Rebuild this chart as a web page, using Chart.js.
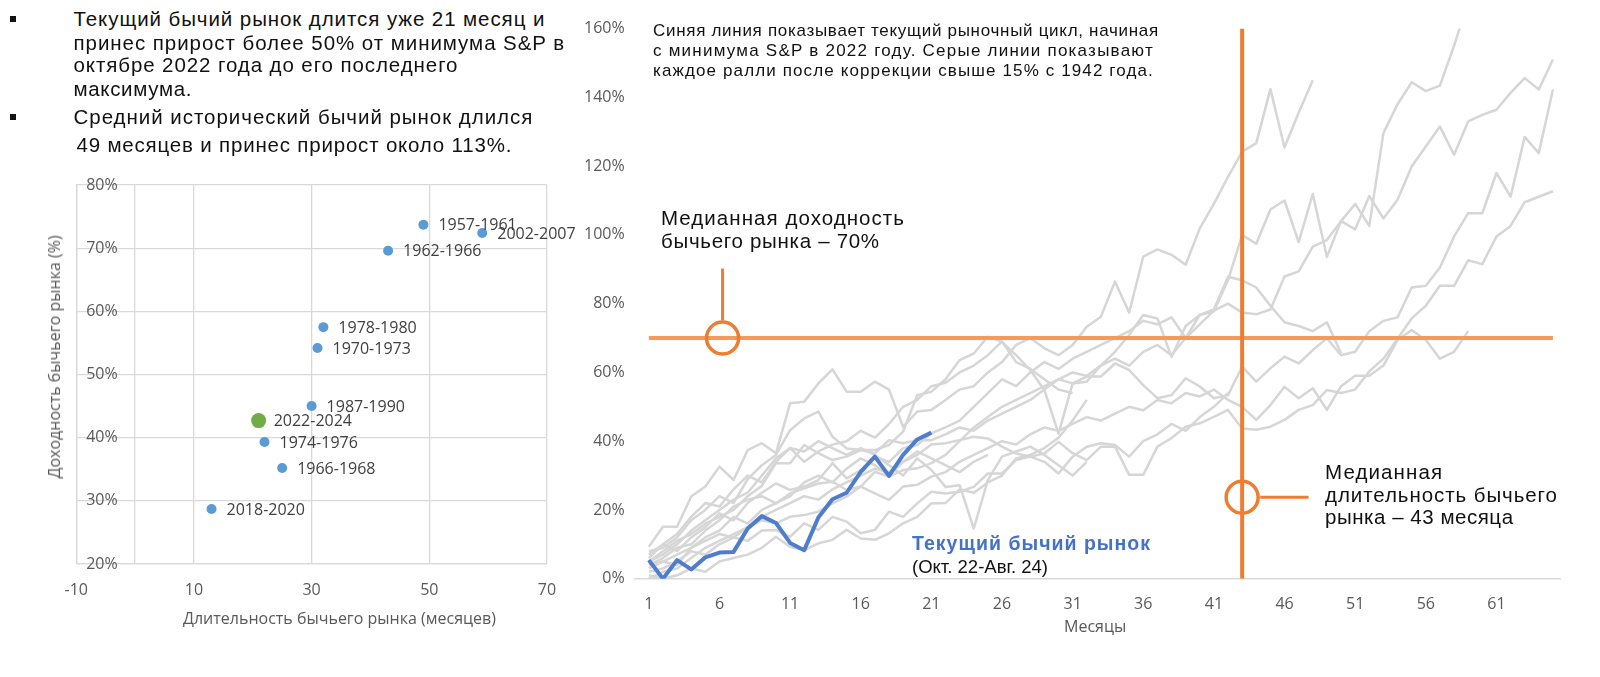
<!DOCTYPE html>
<html><head><meta charset="utf-8">
<script src="https://cdn.jsdelivr.net/npm/chart.js@4.4.1/dist/chart.umd.min.js"></script>
<style>
body{margin:0;width:1600px;height:677px;background:#fff;position:relative;overflow:hidden;}
.t{position:absolute;white-space:nowrap;color:#111;font-family:"Liberation Sans",Arial,sans-serif;}
.b{position:absolute;width:6px;height:6px;background:#111;}
canvas{position:absolute;}
#c1{left:0;top:150px;width:600px;height:500px;}
#c2{left:560px;top:0;width:1040px;height:677px;}
</style></head><body>
<canvas id="c1" width="600" height="500"></canvas>
<canvas id="c2" width="1040" height="677"></canvas>

<div class="b" style="left:10px;top:16px"></div>
<div class="b" style="left:10px;top:114px"></div>
<div class="t fit" data-x="73.5" data-cy="19.4" data-w="471" data-fs="20.5">Текущий бычий рынок длится уже 21 месяц и</div>
<div class="t fit" data-x="73.5" data-cy="42.9" data-w="491" data-fs="20.5">принес прирост более 50% от минимума S&amp;P в</div>
<div class="t fit" data-x="73.5" data-cy="65.4" data-w="384" data-fs="20.5">октябре 2022 года до его последнего</div>
<div class="t fit" data-x="73.5" data-cy="88.9" data-w="118" data-fs="20.5">максимума.</div>
<div class="t fit" data-x="73.5" data-cy="117.5" data-w="459" data-fs="20.5">Средний исторический бычий рынок длился</div>
<div class="t fit" data-x="76.5" data-cy="145" data-w="435" data-fs="20.5">49 месяцев и принес прирост около 113%.</div>

<div class="t fit" data-x="653" data-cy="31" data-w="505" data-fs="17">Синяя линия показывает текущий рыночный цикл, начиная</div>
<div class="t fit" data-x="653" data-cy="51" data-w="500" data-fs="17">с минимума S&amp;P в 2022 году. Серые линии показывают</div>
<div class="t fit" data-x="653" data-cy="71.5" data-w="500" data-fs="17">каждое ралли после коррекции свыше 15% с 1942 года.</div>

<div class="t fit" data-x="661" data-cy="218" data-w="243" data-fs="20.5">Медианная доходность</div>
<div class="t fit" data-x="661" data-cy="241" data-w="218" data-fs="20.5">бычьего рынка – 70%</div>

<div class="t fit" data-x="1325" data-cy="472" data-w="117" data-fs="20.5">Медианная</div>
<div class="t fit" data-x="1325" data-cy="495" data-w="232" data-fs="20.5">длительность бычьего</div>
<div class="t fit" data-x="1325" data-cy="517" data-w="188" data-fs="20.5">рынка – 43 месяца</div>

<div class="t fit" data-x="912" data-cy="544" data-w="238" data-fs="19.5" style="font-weight:bold;color:#4472C4">Текущий бычий рынок</div>
<div class="t fit" data-x="912" data-cy="567" data-w="136" data-fs="18.5">(Окт. 22-Авг. 24)</div>

<div class="t" id="mes" style="font-family:'Open Sans';font-size:16px;color:#595959;left:1064px;top:615px;">Месяцы</div>
<div class="t" id="sx" style="font-family:'Open Sans';font-size:16px;color:#595959;left:183px;top:607px;">Длительность бычьего рынка (месяцев)</div>
<div class="t" id="sy" style="font-family:'Open Sans';font-size:16px;color:#595959;left:54px;top:357px;transform:translate(-50%,-50%) rotate(-90deg);">Доходность бычьего рынка (%)</div>

<script>
// ---------------- DATA ----------------
// Scatter: bull markets (duration in months, return in %)
const scatterLabels   = ["1957-1961","2002-2007","1962-1966","1978-1980","1970-1973","1987-1990","1974-1976","1966-1968","2018-2020"];
const scatterDuration = [49, 59, 43, 32, 31, 30, 22, 25, 13];
const scatterReturn   = [73.7, 72.4, 69.6, 57.5, 54.2, 45.0, 39.3, 35.2, 28.7];
const currentLabel    = "2022-2024";
const currentDuration = 21;
const currentReturn   = 42.7;
const scatterXTicks   = [-10, 0, 10, 30, 50, 70];

// Line chart: cumulative return (%) by month since market low
const monthTicks = [1, 6, 11, 16, 21, 26, 31, 36, 41, 46, 51, 56, 61];
const currentCycle = [5.4, 0, 5.4, 2.7, 6.2, 7.6, 7.8, 14.6, 18.2, 16.2, 10.4, 8.3, 17.8, 23.1, 25, 31.1, 35.5, 29.9, 36, 40.5, 42.5];

const rally1 = [8, 9, 12, 17, 20, 24, 22, 29, 33, 36, 43.2, 46.6, 48.6, 41.3, 37.9, 37.4, 37.4, 38.9, 42.8, 53.4, 54.4,
  58, 63.6, 65.5, 70.4, 68.9, 65, 60.7, 54.9, 42.2, 56.8, 57.3, 62, 66, 70.9,
  76.7, 75.7, 64.5, 73.5, 76.7, 77.8, 86.8, 100, 97.4, 107.4, 110, 97.9, 111.9, 93.6, 104,
  109, 102.6, 129.6, 138, 144.4, 141.8, 143.4, 155, 168];
const rally2 = [5, 8, 11, 13, 16, 18, 20, 24, 27, 33.6, 33.6, 38.9, 36.5, 34.5, 35.5, 37.4, 36.5, 40.3, 39.4, 40.3, 40.3,
  42, 44, 43, 46, 48, 50, 52, 55, 58, 60, 59, 62, 64, 62,
  66, 68, 65, 70, 74, 78, 80, 77.4, 76.9, 78.3, 87.9, 89.4, 96.6, 98.5, 104,
  101.6, 111.3, 104.8, 110.2, 119.9, 125.7, 131.5, 123.3, 133, 134.9, 136.4, 141.3, 145.6, 142.3, 151];
const rally3 = [9.3, 15.1, 15.1, 23.9, 26.8, 32.6, 28.7, 37.4, 39.4, 36.5, 51, 51.5, 56.8, 60.9, 54.4, 54.4, 57.3, 55, 44.2, 48.6, 49.1,
  52, 55, 56, 60, 63, 68, 70, 67, 65, 68, 73.3, 76.2, 86.4, 77.4,
  93.7, 95.8, 94.2, 91.3, 101.9, 109, 116.9, 124.2, 126.7, 142.4, 125.4, 135.5, 145];
const rally4 = [4, 6, 9, 10, 14, 17, 21, 23, 24, 21.9, 24.8, 26.3, 27.7, 28.2, 25.8, 26.8, 31.1, 29.7, 31.6, 32.1, 33.6,
  36, 40, 44, 47, 50, 52, 54, 56, 58, 56.8, 58.8, 58.8, 62.6, 60.7,
  56.3, 52.5, 53.4, 58.3, 55.9, 52.5, 53.4, 61.7, 57.3, 61.2, 64.6, 62.6, 66.5, 69.9, 65,
  66, 72, 75, 76, 84.7, 85.2, 90.5, 99.5, 106.3, 106.3, 118, 111.1, 128.5, 123.8, 142.3];
const rally5 = [2, 3, 5, 8, 7, 10, 12, 11, 14, 14.2, 12.2, 16.1, 14.2, 18, 16.6, 13.2, 14.2, 19.5, 18, 21.9, 25.3,
  24.8, 25.3, 26.7, 30.6, 30.6, 34.5, 35.5, 36.4, 39.8, 36.5, 34.5, 38.4, 38.4, 30.2,
  30.2, 38.4, 40.9, 44.2, 45.2, 47.1, 49.1, 43.7, 43.3, 44.2, 46.2, 49.1, 50.5, 54.9, 54,
  55, 60.3, 64, 69.8, 75.7, 79.4, 85.2, 85.2, 92.6, 91.5, 99.5, 102.6, 109.5, 111.1, 112.7];
const rally6 = [0, 2, 3, 6, 9, 11, 13, 15, 17, 16.1, 18, 18.5, 19.5, 21.9, 23.9, 26.8, 24.8, 22.9, 26.8, 27.3, 29.7,
  31, 34, 36, 38, 40, 39, 42, 44, 43, 45, 47, 46, 48, 50,
  49, 52, 51, 54, 53, 55, 52, 50, 46.2, 50.5, 55.8, 52.5, 55.4, 49.1, 56,
  59, 59, 62, 69.4, 72.3, 69.4, 64, 66, 72];
const rally7 = [7, 10, 8, 12, 15, 19, 17, 22, 25, 27.7, 25.8, 26.8, 28.7, 33.6, 29.2, 31.6, 35.5, 34, 37.9, 38.9, 42.3,
  44, 46, 50, 54, 58, 56, 60, 63, 61, 64, 66, 68, 70, 72,
  75, 74, 76, 70, 76.7, 78.3, 87.8, 86.8, 84.7, 79.4, 74.6, 73.5, 72, 74.6, 65.6];
const rally8 = [1, 0, 1, 3, 2, 5, 6, 7, 9, 12.2, 9.3, 8.3, 10.3, 11.3, 14.2, 11.7, 11.3, 13.2, 16.1, 18, 21.9,
  22, 26, 25, 28, 30, 35, 36, 38, 41, 46, 52];
const rally9 = [6, 10, 13, 18, 22, 21, 26, 30, 28, 34, 38, 37, 40, 38, 36, 38, 36, 33, 30, 35, 31.6,
  26.7, 27.2, 14.6, 28.7, 35.5, 37, 38.4, 36, 33, 30, 34];
const rally10 = [3, 5, 4, 9, 12, 14, 18, 16, 20, 22, 24, 28, 30, 28, 32, 35, 33, 30, 34, 37, 35,
  33, 31, 34, 36];
const rally11 = [5, 7, 10, 14, 17, 20, 23, 25, 30, 35, 38, 34, 37, 39, 40, 43, 41, 45, 50, 52, 56,
  57, 60, 62, 65, 69, 63, 61, 58, 55, 54];
const rally12 = [4, 5, 7, 9, 11, 13, 12, 15, 18, 20, 22, 24, 23, 26, 28, 30, 32, 31, 34, 36, 39,
  39.4, 40.3, 41.3, 40.8, 38.4, 36.4, 35.5, 34, 30.6, 35.5, 38.4, 39.4, 38.9, 35.5, 40, 42, 45, 43, 47, 50, 54];

// Annotation values
const medianReturn = 70;      // %
const medianDuration = 43;    // months
const lastMonth = 65;
const returnMarker = {x: 6.22, y: 70, stemTop: 90.2, stemBottom: 75.1};
const durationMarker = {x: 43, y: 23.7, stemStart: 44.28, stemEnd: 47.7};

// ---------------- TEXT FITTING ----------------
const mctx = document.createElement('canvas').getContext('2d');
document.querySelectorAll('.fit').forEach(el => {
  const fs = +el.dataset.fs;
  el.style.fontSize = fs + 'px';
  el.style.lineHeight = (fs * 1.2) + 'px';
  el.style.left = el.dataset.x + 'px';
  el.style.top = (+el.dataset.cy - fs * 0.6) + 'px';
  const cs = getComputedStyle(el);
  mctx.font = cs.fontWeight + ' ' + fs + 'px ' + cs.fontFamily;
  const txt = el.textContent;
  const w = mctx.measureText(txt).width;
  const ls = (+el.dataset.w - w) / Math.max(1, txt.length - 1);
  el.style.letterSpacing = ls.toFixed(2) + 'px';
});

Chart.defaults.font.family = "'Open Sans'";
Chart.defaults.color = '#595959';

// ---------------- SCATTER ----------------
const pointLabels = {
  id: 'pointLabels',
  afterDatasetsDraw(chart) {
    const ctx = chart.ctx;
    ctx.save();
    ctx.font = "16px 'Open Sans'";
    ctx.fillStyle = '#404040';
    ctx.textBaseline = 'middle';
    chart.data.datasets.forEach((ds, di) => {
      const meta = chart.getDatasetMeta(di);
      meta.data.forEach((pt, i) => {
        ctx.fillText(ds.labels[i], pt.x + 15, pt.y + 1);
      });
    });
    ctx.restore();
  }
};

new Chart(document.getElementById('c1'), {
  type: 'scatter',
  data: {
    datasets: [
      {labels: scatterLabels, data: scatterDuration.map((d, i) => ({x: d, y: scatterReturn[i]})),
       backgroundColor: '#5B9BD5', borderWidth: 0, pointRadius: 5},
      {labels: [currentLabel], data: [{x: currentDuration, y: currentReturn}],
       backgroundColor: '#70AD47', borderWidth: 0, pointRadius: 7.5}
    ]
  },
  options: {
    responsive: false, animation: false,
    layout: {padding: {left: 76.2, right: 53, top: 35, bottom: 0}},
    plugins: {legend: {display: false}, tooltip: {enabled: false}},
    scales: {
      x: {type: 'linear', min: -10, max: 70,
        afterBuildTicks: s => { s.ticks = scatterXTicks.map(v => ({value: v})); },
        afterFit: s => { s.height = 86; },
        ticks: {callback: v => v === 0 ? '' : String(v), padding: 17, font: {size: 16}, color: '#595959', maxRotation: 0, autoSkip: false},
        grid: {color: '#d9d9d9', lineWidth: 1.3, drawTicks: false},
        border: {color: '#d9d9d9', width: 1.3}},
      y: {min: 20, max: 80,
        afterFit: s => { s.width = 0; },
        ticks: {stepSize: 10, mirror: true, padding: 10, callback: v => v + '%', font: {size: 16}, color: '#595959'},
        grid: {color: '#d9d9d9', lineWidth: 1.3, drawTicks: false},
        border: {color: '#d9d9d9', width: 1.3}}
    }
  },
  plugins: [pointLabels]
});

// ---------------- LINE CHART ----------------
const toXY = arr => arr.map((v, i) => ({x: i + 1, y: v}));
const rallies = [rally1, rally2, rally3, rally4, rally5, rally6, rally7, rally8, rally9, rally10, rally11, rally12];
const orange = '#ED7D31';
const datasets = [];

datasets.push({data: [{x: 1, y: medianReturn}, {x: lastMonth, y: medianReturn}], borderColor: '#F39A5C', borderWidth: 4, order: 1});
datasets.push({data: [{x: medianDuration, y: 0}, {x: medianDuration, y: 160}], borderColor: orange, borderWidth: 4, order: 0});
datasets.push({data: [{x: returnMarker.x, y: returnMarker.stemBottom}, {x: returnMarker.x, y: returnMarker.stemTop}], borderColor: orange, borderWidth: 3, order: 0});
datasets.push({data: [{x: durationMarker.stemStart, y: durationMarker.y}, {x: durationMarker.stemEnd, y: durationMarker.y}], borderColor: orange, borderWidth: 3, order: 0});
datasets.push({data: [{x: returnMarker.x, y: returnMarker.y}], showLine: false, pointRadius: 16, pointBorderWidth: 3.5, pointBorderColor: orange, pointBackgroundColor: 'rgba(0,0,0,0)', order: 0});
datasets.push({data: [{x: durationMarker.x, y: durationMarker.y}], showLine: false, pointRadius: 16, pointBorderWidth: 3.5, pointBorderColor: orange, pointBackgroundColor: 'rgba(0,0,0,0)', order: 0});
datasets.push({data: toXY(currentCycle), borderColor: '#4F7CCB', borderWidth: 4, order: 2});
rallies.forEach(r => datasets.push({data: toXY(r), borderColor: '#d6d6d6', borderWidth: 2.5, order: 3}));

new Chart(document.getElementById('c2'), {
  type: 'line',
  data: {datasets},
  options: {
    responsive: false, animation: false,
    layout: {padding: {left: 0, right: 40, top: 28.6, bottom: 0}},
    plugins: {legend: {display: false}, tooltip: {enabled: false}},
    elements: {point: {radius: 0}, line: {tension: 0, borderJoinStyle: 'round', borderCapStyle: 'butt'}},
    scales: {
      x: {type: 'linear', min: 0, max: 65.5,
        afterBuildTicks: s => { s.ticks = monthTicks.map(v => ({value: v})); },
        afterFit: s => { s.height = 98.3; },
        ticks: {padding: 16, font: {size: 16}, color: '#595959', maxRotation: 0, autoSkip: false},
        grid: {display: false, drawTicks: false},
        border: {display: true, color: '#d9d9d9', width: 1.5}},
      y: {min: 0, max: 160,
        afterFit: s => { s.width = 74.7; },
        ticks: {stepSize: 20, padding: 10, callback: v => v + '%', font: {size: 16}, color: '#595959'},
        grid: {display: false, drawTicks: false},
        border: {display: false}}
    }
  }
});
</script>
</body></html>
